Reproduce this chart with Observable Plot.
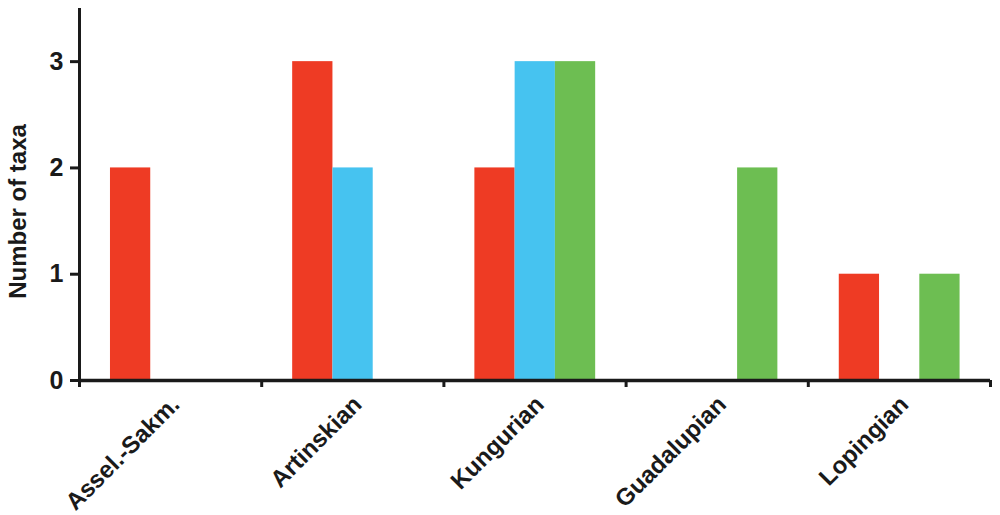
<!DOCTYPE html>
<html>
<head>
<meta charset="utf-8">
<script src="https://cdn.jsdelivr.net/npm/d3@7"></script>
<script src="https://cdn.jsdelivr.net/npm/@observablehq/plot@0.6"></script>
<style>
  html, body { margin: 0; padding: 0; background: #ffffff; }
  #chart { width: 1000px; height: 515px; }
</style>
</head>
<body>
<div id="chart"></div>
<script>
// Data
const periods = ["Assel.-Sakm.", "Artinskian", "Kungurian", "Guadalupian", "Lopingian"];
const seriesNames = ["Series A", "Series B", "Series C"];
const seriesA = [2, 3, 2, 0, 1];
const seriesB = [0, 2, 3, 0, 0];
const seriesC = [0, 0, 3, 2, 1];
const yTicks = [0, 1, 2, 3];
const yLabel = "Number of taxa";
const colors = ["#ee3b24", "#46c3f0", "#6dbe52"];

// layout within each period group (fractions of one group)
const groupPad = 0.17;
const barW = 0.221;

const values = [seriesA, seriesB, seriesC];
const data = [];
periods.forEach((p, i) => {
  seriesNames.forEach((s, j) => {
    data.push({period: p, pi: i, series: s, sj: j, value: values[j][i]});
  });
});

const chart = Plot.plot({
  width: 1000,
  height: 515,
  marginLeft: 79,
  marginRight: 10,
  marginTop: 8,
  marginBottom: 135,
  style: {fontFamily: "'Liberation Sans', Arial, sans-serif", fontWeight: "bold", fontSize: "22px", color: "#1a1a1a", background: "#ffffff"},
  x: {domain: [0, periods.length], axis: null},
  y: {domain: [0, 3.5], axis: null},
  color: {domain: seriesNames, range: colors},
  marks: [
    Plot.rectY(data.filter(d => d.value > 0), {
      x1: d => d.pi + groupPad + d.sj * barW,
      x2: d => d.pi + groupPad + (d.sj + 1) * barW,
      y1: 0,
      y2: "value",
      fill: "series"
    }),
    Plot.axisY({ticks: yTicks, tickFormat: d3.format("d"), tickSize: 9, tickPadding: 7, fontSize: 25, strokeWidth: 3, label: null}),
    Plot.axisX({ticks: d3.range(periods.length + 1), tickSize: 7, strokeWidth: 3, tickFormat: () => "", label: null}),
    Plot.axisX({
      ticks: periods.map((p, i) => i + 0.5),
      tickSize: 0,
      tickPadding: 20,
      tickRotate: -45,
      fontSize: 24,
      tickFormat: d => periods[Math.floor(d)],
      label: null,
      dx: 5
    }),
    Plot.ruleX([0], {y1: 0, y2: 3.5, strokeWidth: 3, stroke: "#1a1a1a"}),
    Plot.ruleY([0], {x1: 0, x2: periods.length, strokeWidth: 3.5, stroke: "#1a1a1a"}),
    Plot.text([yLabel], {
      frameAnchor: "left",
      textAnchor: "middle",
      rotate: -90,
      dx: -61,
      dy: 17,
      fontSize: 24,
      fontWeight: "bold",
      fill: "#1a1a1a"
    })
  ]
});
document.getElementById("chart").appendChild(chart);
</script>
</body>
</html>
